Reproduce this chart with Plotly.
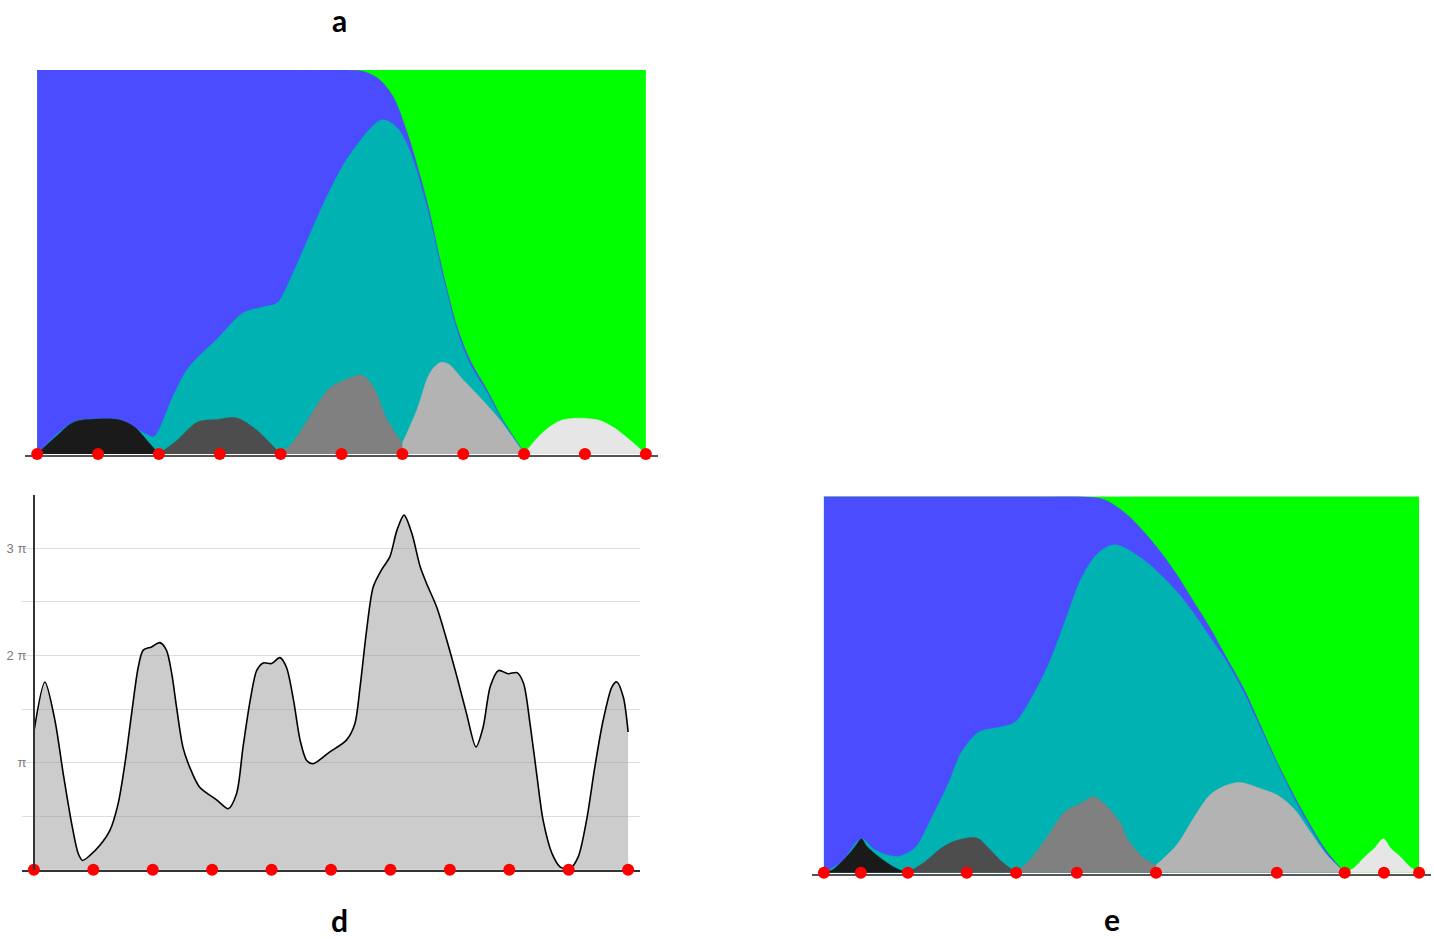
import numpy as np
import plotly.graph_objects as go

W, H = 1434, 939
PI = np.pi

# ---------------- Panel a (stacked areas, x in knot units 0..10, y 0..1) -------------
a_knots = [0, 1, 2, 3, 4, 5, 6, 7, 8, 9, 10]
a_green_x = [0, 10]
a_green_y = [1, 1]
a_blue_x = [0, 3, 5.09, 5.39, 5.63, 5.85, 6.08, 6.40, 6.67, 6.90, 7.11, 7.39, 7.65, 7.93, 8.0]
a_blue_y = [1, 1, 1.0, 0.995, 0.974, 0.93, 0.836, 0.66, 0.47, 0.33, 0.245, 0.167, 0.089, 0.02, 0]
a_teal_x = [0, 0.59, 0.99, 1.36, 1.58, 1.81, 1.92, 2.23, 2.46, 2.63, 2.96, 3.38, 3.71, 3.94,
            4.2, 4.53, 4.81, 5.14, 5.66, 5.91, 6.12, 6.40, 6.67, 6.90, 7.11, 7.39, 7.65, 7.93, 8.0]
a_teal_y = [0, 0.083, 0.091, 0.089, 0.07, 0.05, 0.045, 0.15, 0.219, 0.25, 0.3, 0.367, 0.383, 0.393,
            0.47, 0.59, 0.687, 0.78, 0.87, 0.85, 0.79, 0.645, 0.46, 0.32, 0.235, 0.16, 0.085, 0.018, 0]
a_b1_x = [0, 0.3, 0.6, 1.0, 1.35, 1.6, 1.8, 2.0]
a_b1_y = [0, 0.044, 0.083, 0.091, 0.089, 0.07, 0.036, 0]
a_b2_x = [2.0, 2.30, 2.63, 2.96, 3.28, 3.61, 3.83, 4.0]
a_b2_y = [0, 0.036, 0.083, 0.09, 0.094, 0.062, 0.028, 0]
a_b3_x = [4.0, 4.2, 4.65, 4.81, 5.14, 5.34, 5.52, 5.75, 6.0]
a_b3_y = [0, 0.03, 0.14, 0.172, 0.198, 0.205, 0.175, 0.089, 0.028]
a_b4_x = [6.0, 6.24, 6.45, 6.62, 6.75, 7.0, 7.32, 7.60, 7.88, 8.0]
a_b4_y = [0.028, 0.115, 0.21, 0.238, 0.235, 0.193, 0.14, 0.089, 0.028, 0]
a_b5_x = [8.0, 8.30, 8.64, 9.20, 9.46, 9.74, 10.0]
a_b5_y = [0, 0.055, 0.089, 0.089, 0.07, 0.036, 0]

# ---------------- Panel d (curve in multiples of pi) ----------------
d_knots = [0, 1, 2, 3, 4, 5, 6, 7, 8, 9, 10]
d_x = [0, 0.185, 0.354, 0.493, 0.635, 0.746, 0.82, 0.943, 1.111, 1.279, 1.419, 1.532, 1.645, 1.756, 1.84,
       1.98, 2.12, 2.23, 2.32, 2.40, 2.51, 2.65, 2.79, 3.08, 3.27, 3.41, 3.52, 3.64, 3.75, 3.86, 4.00,
       4.14, 4.25, 4.37, 4.48, 4.59, 4.70, 4.98, 5.26, 5.40, 5.49, 5.60, 5.71, 5.85, 5.99, 6.11, 6.23,
       6.36, 6.50, 6.61, 6.78, 6.95, 7.12, 7.28, 7.44, 7.56, 7.68, 7.82, 7.98, 8.13, 8.24, 8.35, 8.46,
       8.57, 8.72, 8.86, 9.02, 9.16, 9.30, 9.44, 9.58, 9.73, 9.81, 9.92, 10.0]
d_y_pi = [1.286, 1.753, 1.395, 0.90, 0.433, 0.152, 0.087, 0.134, 0.228, 0.367, 0.62, 0.99, 1.46, 1.89, 2.05,
          2.08, 2.12, 2.05, 1.83, 1.52, 1.14, 0.92, 0.77, 0.65, 0.57, 0.71, 1.146, 1.58, 1.86, 1.93, 1.925,
          1.98, 1.89, 1.58, 1.21, 1.02, 0.99, 1.10, 1.21, 1.36, 1.71, 2.24, 2.64, 2.80, 2.92, 3.17, 3.31,
          3.14, 2.83, 2.67, 2.45, 2.14, 1.80, 1.46, 1.146, 1.33, 1.71, 1.86, 1.83, 1.84, 1.74, 1.36, 0.90,
          0.46, 0.15, 0.025, 0.01, 0.12, 0.46, 0.96, 1.395, 1.71, 1.753, 1.61, 1.286]
d_tick_pi = [0.5, 1, 1.5, 2, 2.5, 3, 3.5]
d_tick_text = ["π", "2 π", "3 π"]

# ---------------- Panel e (stacked areas, uneven knots) ----------------
e_knots = [0, 0.62, 1.41, 2.40, 3.23, 4.25, 5.58, 7.61, 8.75, 9.41, 10.0]
e_green_x = [0, 10]
e_green_y = [1, 1]
e_blue_x = [0, 3.5, 4.30, 4.72, 5.09, 5.37, 5.65, 5.93, 6.21, 6.49, 6.77, 7.05, 7.33, 7.61, 7.89, 8.17, 8.45, 8.75]
e_blue_y = [1, 1, 1.0, 0.991, 0.952, 0.907, 0.854, 0.792, 0.721, 0.65, 0.57, 0.49, 0.393, 0.295, 0.207, 0.127, 0.056, 0]
e_teal_x = [0, 0.30, 0.63, 0.86, 1.24, 1.53, 1.81, 2.08, 2.31, 2.54, 2.65, 2.99, 3.21, 3.49, 3.77, 4.05,
            4.33, 4.61, 4.89, 5.37, 5.93, 6.21, 6.49, 6.77, 7.05, 7.33, 7.61, 7.89, 8.17, 8.45, 8.75]
e_teal_y = [0, 0.029, 0.09, 0.06, 0.043, 0.066, 0.146, 0.233, 0.32, 0.366, 0.377, 0.388, 0.40, 0.465, 0.552, 0.668,
            0.784, 0.85, 0.872, 0.832, 0.747, 0.69, 0.625, 0.56, 0.48, 0.385, 0.29, 0.20, 0.12, 0.05, 0]
e_b1_x = [0, 0.15, 0.30, 0.45, 0.55, 0.63, 0.72, 0.86, 1.0, 1.14, 1.3, 1.41]
e_b1_y = [0, 0.008, 0.029, 0.055, 0.075, 0.09, 0.07, 0.05, 0.033, 0.018, 0.006, 0]
e_b2_x = [1.41, 1.70, 1.98, 2.20, 2.57, 2.76, 2.99, 3.23]
e_b2_y = [0, 0.029, 0.066, 0.084, 0.092, 0.066, 0.029, 0]
e_b3_x = [3.23, 3.49, 3.77, 4.05, 4.33, 4.53, 4.78, 5.00, 5.09, 5.37, 5.58]
e_b3_y = [0, 0.039, 0.10, 0.162, 0.185, 0.202, 0.172, 0.127, 0.092, 0.039, 0.02]
e_b4_x = [5.58, 5.93, 6.21, 6.49, 6.77, 6.99, 7.33, 7.61, 7.89, 8.17, 8.45, 8.75]
e_b4_y = [0.02, 0.074, 0.145, 0.207, 0.233, 0.24, 0.224, 0.207, 0.171, 0.109, 0.047, 0]
e_b5_x = [8.75, 8.9, 9.06, 9.25, 9.40, 9.52, 9.68, 9.85, 10.0]
e_b5_y = [0, 0.012, 0.038, 0.065, 0.09, 0.065, 0.043, 0.015, 0]

GREEN = "#00FF00"
BLUE = "#4B4BFF"
TEAL = "#00B2B2"
BUMPS = ["#1A1A1A", "#4D4D4D", "#808080", "#B3B3B3", "#E6E6E6"]
RED = "#FF0000"

fig = go.Figure()


def area(x, y, color, xa, ya, shape="spline"):
    fig.add_trace(go.Scatter(x=x, y=y, xaxis=xa, yaxis=ya, mode="lines", fill="tozeroy",
                             fillcolor=color, line=dict(color=color, width=0.5, shape=shape, smoothing=0.9),
                             hoverinfo="skip"))


def dots(x, xa, ya):
    fig.add_trace(go.Scatter(x=x, y=[0] * len(x), xaxis=xa, yaxis=ya, mode="markers",
                             marker=dict(color=RED, size=12), cliponaxis=False, hoverinfo="skip"))


# panel a
area(a_green_x, a_green_y, GREEN, "x", "y", shape="linear")
area(a_blue_x, a_blue_y, BLUE, "x", "y")
area(a_teal_x, a_teal_y, TEAL, "x", "y")
for (bx, by), c in zip([(a_b1_x, a_b1_y), (a_b2_x, a_b2_y), (a_b3_x, a_b3_y), (a_b4_x, a_b4_y), (a_b5_x, a_b5_y)], BUMPS):
    area(bx, by, c, "x", "y")
dots(a_knots, "x", "y")

# panel d
fig.add_trace(go.Scatter(x=d_x, y=np.array(d_y_pi) * PI, xaxis="x2", yaxis="y2", mode="lines",
                         fill="tozeroy", fillcolor="rgba(153,153,153,0.5)",
                         line=dict(color="black", width=1.6, shape="spline", smoothing=0.8),
                         hoverinfo="skip"))
dots(d_knots, "x2", "y2")

# panel e
area(e_green_x, e_green_y, GREEN, "x3", "y3", shape="linear")
area(e_blue_x, e_blue_y, BLUE, "x3", "y3")
area(e_teal_x, e_teal_y, TEAL, "x3", "y3")
for (bx, by), c in zip([(e_b1_x, e_b1_y), (e_b2_x, e_b2_y), (e_b3_x, e_b3_y), (e_b4_x, e_b4_y), (e_b5_x, e_b5_y)], BUMPS):
    area(bx, by, c, "x3", "y3")
dots(e_knots, "x3", "y3")

base_x = dict(range=[-0.2, 10.2], showgrid=False, zeroline=False, showticklabels=False, ticks="",
              showline=True, linecolor="#555555", linewidth=2, layer="below traces", fixedrange=True)

fig.update_layout(
    width=W, height=H, margin=dict(l=0, r=0, t=0, b=0),
    paper_bgcolor="white", plot_bgcolor="rgba(0,0,0,0)", showlegend=False,
    xaxis=dict(base_x, domain=[25 / W, 658 / W], anchor="y"),
    yaxis=dict(domain=[1 - 455 / H, 1 - 70 / H], range=[-0.0026, 1], visible=False, anchor="x"),
    xaxis2=dict(base_x, domain=[22 / W, 640 / W], anchor="y2", linecolor="#333333", linewidth=2.2),
    yaxis2=dict(domain=[1 - 870 / H, 1 - 494.8 / H], range=[-0.008, 3.5 * PI], anchor="free", position=34 / W,
                tickmode="array", tickvals=[v * PI for v in d_tick_pi],
                ticktext=["", d_tick_text[0], "", d_tick_text[1], "", d_tick_text[2], ""],
                showgrid=True, gridcolor="#DDDDDD", gridwidth=1.2, zeroline=False,
                showline=True, linecolor="#333333", linewidth=2, ticks="outside", ticklen=3,
                tickcolor="rgba(0,0,0,0)", ticklabelstandoff=1,
                tickfont=dict(family="Liberation Sans", size=13, color="#7A7A7A"), layer="above traces",
                fixedrange=True),
    xaxis3=dict(base_x, domain=[812 / W, 1431 / W], anchor="y3"),
    yaxis3=dict(domain=[1 - 873.7 / H, 1 - 496.5 / H], range=[-0.0027, 1], visible=False, anchor="x3"),
)

for txt, px, py in [("a", 339, 20), ("d", 339, 920), ("e", 1112, 919)]:
    fig.add_annotation(text="<b>%s</b>" % txt, x=px / W, y=1 - py / H, xref="paper", yref="paper",
                       showarrow=False, xanchor="center", yanchor="middle",
                       font=dict(family="Lato", size=30, color="black"))

fig.write_html("out.html", config={"displayModeBar": False},
               post_script="document.body.style.margin='0px';document.body.style.overflow='hidden';")
